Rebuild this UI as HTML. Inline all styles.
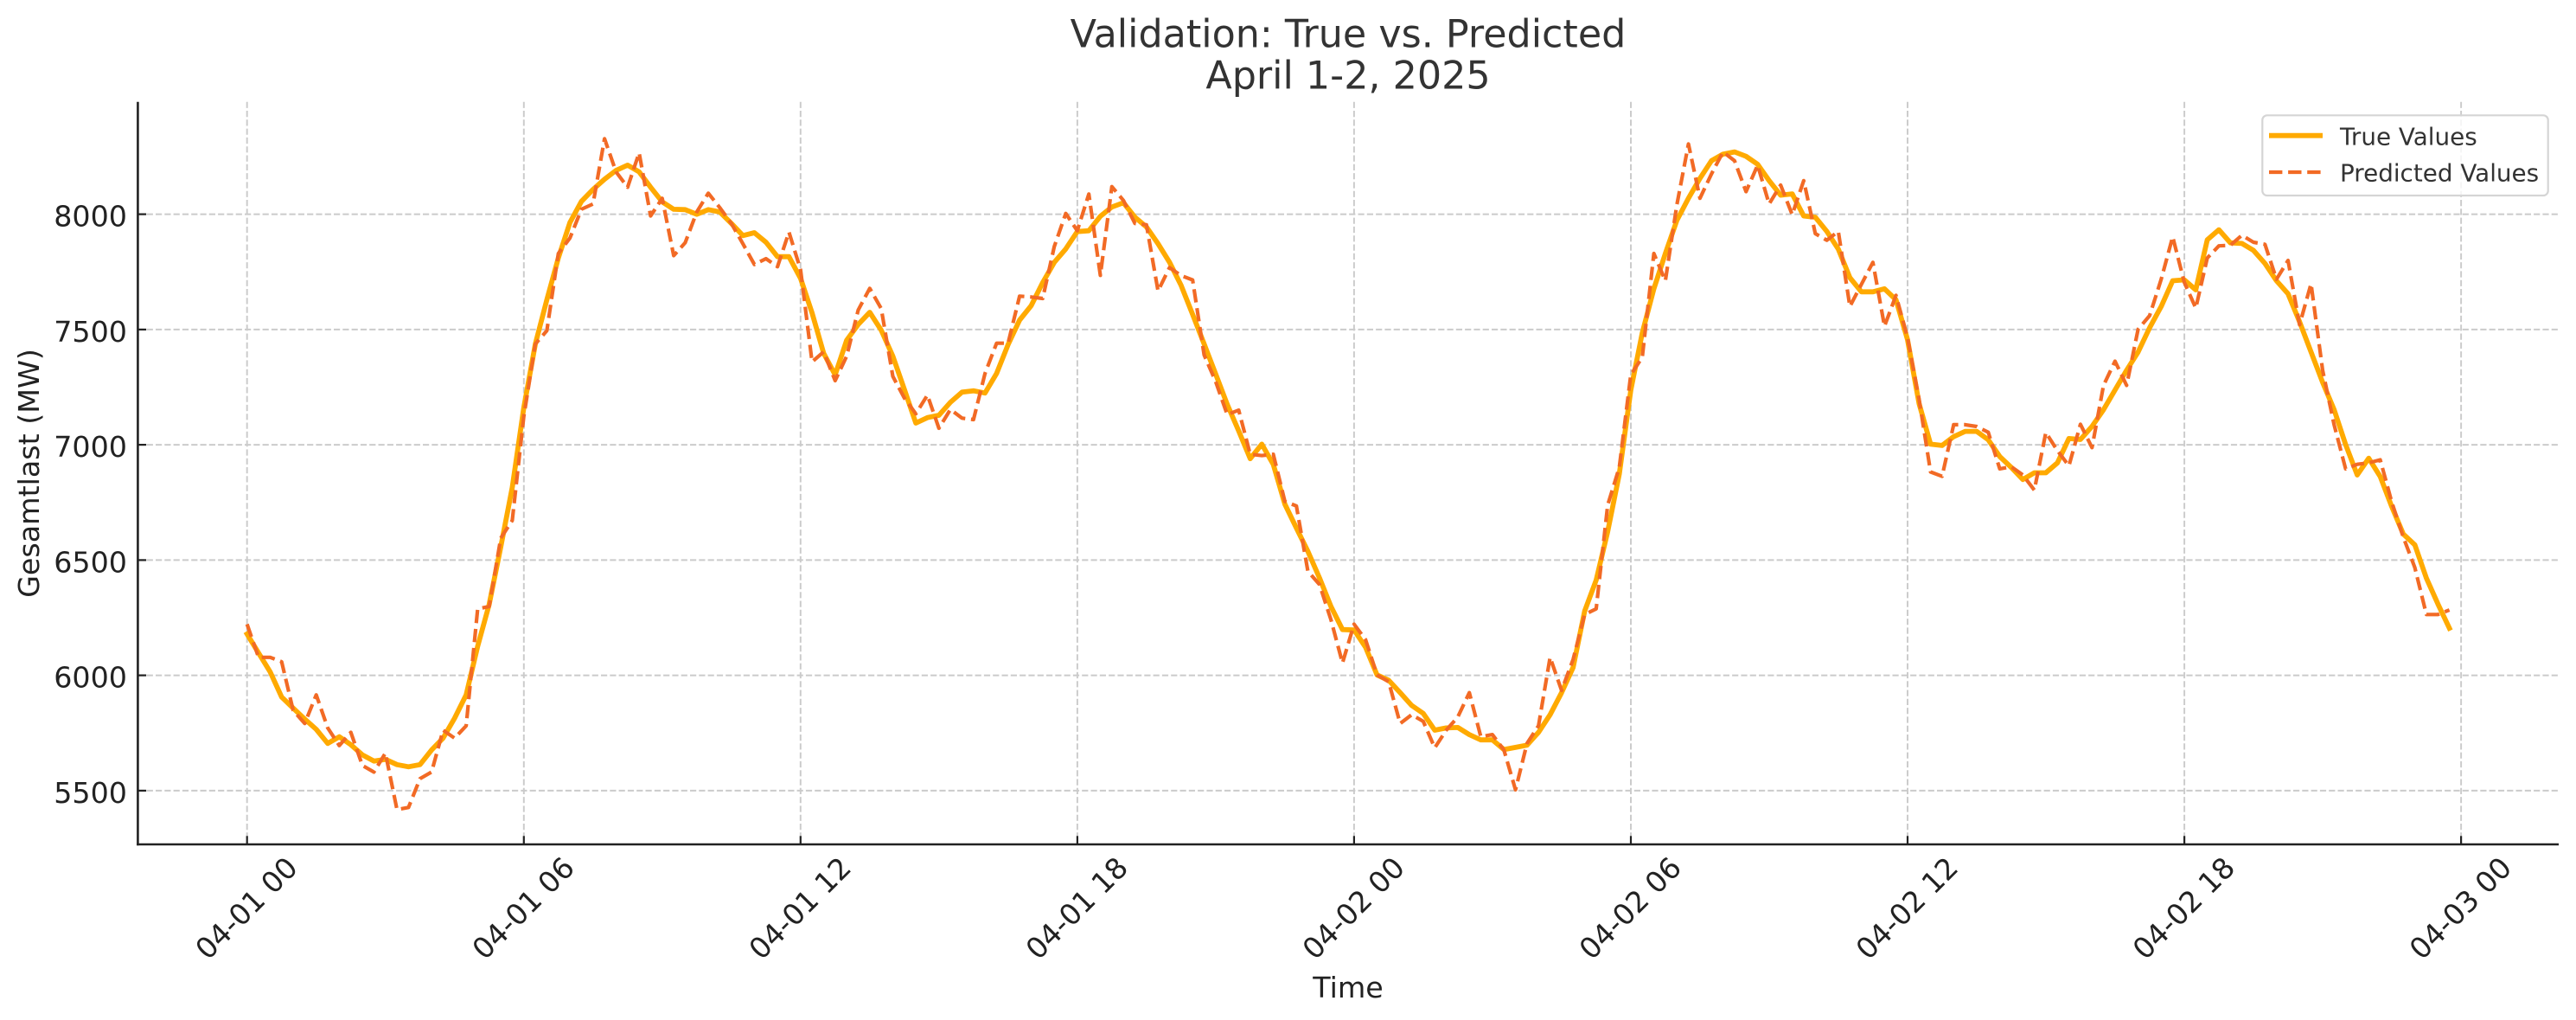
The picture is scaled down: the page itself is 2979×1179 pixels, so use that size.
<!DOCTYPE html>
<html><head><meta charset="utf-8"><style>
html,body{margin:0;padding:0;background:#fff;}
svg{display:block;}
text{font-family:"DejaVu Sans","Liberation Sans",sans-serif;}
</style></head><body>
<svg width="2979" height="1179" viewBox="0 0 2979 1179" xmlns="http://www.w3.org/2000/svg">
<rect x="0" y="0" width="2979" height="1179" fill="#fff"/>
<!-- grid -->
<g stroke="#cbcbcb" stroke-width="1.95" stroke-dasharray="7.2 3.1" fill="none">
<line x1="285.7" y1="117.7" x2="285.7" y2="976"/>
<line x1="605.8" y1="117.7" x2="605.8" y2="976"/>
<line x1="925.8" y1="117.7" x2="925.8" y2="976"/>
<line x1="1245.9" y1="117.7" x2="1245.9" y2="976"/>
<line x1="1565.9" y1="117.7" x2="1565.9" y2="976"/>
<line x1="1886.0" y1="117.7" x2="1886.0" y2="976"/>
<line x1="2206.0" y1="117.7" x2="2206.0" y2="976"/>
<line x1="2526.1" y1="117.7" x2="2526.1" y2="976"/>
<line x1="2846.1" y1="117.7" x2="2846.1" y2="976"/>
<line x1="159.4" y1="247.6" x2="2959" y2="247.6"/>
<line x1="159.4" y1="380.9" x2="2959" y2="380.9"/>
<line x1="159.4" y1="514.1" x2="2959" y2="514.1"/>
<line x1="159.4" y1="647.4" x2="2959" y2="647.4"/>
<line x1="159.4" y1="780.6" x2="2959" y2="780.6"/>
<line x1="159.4" y1="913.9" x2="2959" y2="913.9"/>
</g>
<!-- true values -->
<polyline fill="none" stroke="#FFAA00" stroke-width="5.8" stroke-linejoin="round" stroke-linecap="square" points="285.7,732.8 299.0,754.7 312.4,776.6 325.7,805.7 339.0,818.5 352.4,831.2 365.7,843.0 379.0,859.3 392.4,851.6 405.7,860.8 419.1,872.6 432.4,879.7 445.7,877.7 459.1,883.8 472.4,886.3 485.7,883.8 499.1,866.9 512.4,853.2 525.7,830.2 539.1,803.2 552.4,747.0 565.7,698.6 579.1,632.2 592.4,563.4 605.7,471.5 619.1,397.6 632.4,346.5 645.7,298.1 659.1,257.2 672.4,232.8 685.8,219.0 699.1,207.2 712.4,197.0 725.8,190.9 739.1,198.6 752.4,216.4 765.8,233.3 779.1,241.9 792.4,242.3 805.8,247.7 819.1,242.3 832.4,245.0 845.8,258.3 859.1,272.3 872.4,269.0 885.8,280.0 899.1,296.7 912.4,296.7 925.8,321.7 939.1,361.7 952.5,408.3 965.8,433.3 979.1,393.3 992.5,375.0 1005.8,361.0 1019.1,381.7 1032.5,411.7 1045.8,450.0 1059.1,489.0 1072.5,482.7 1085.8,480.0 1099.1,465.0 1112.5,453.3 1125.8,451.7 1139.1,454.3 1152.5,431.7 1165.8,398.3 1179.1,370.0 1192.5,353.3 1205.8,326.7 1219.2,303.3 1232.5,287.7 1245.8,267.7 1259.2,266.7 1272.5,250.0 1285.8,239.3 1299.2,234.3 1312.5,251.1 1325.8,262.3 1339.2,281.7 1352.5,303.2 1365.8,329.7 1379.2,363.4 1392.5,397.6 1405.8,432.2 1419.2,467.4 1432.5,498.1 1445.8,530.2 1459.2,513.4 1472.5,536.8 1485.9,582.8 1499.2,610.3 1512.5,637.3 1525.9,668.0 1539.2,701.1 1552.5,727.7 1565.9,728.2 1579.2,748.1 1592.5,780.2 1605.9,786.3 1619.2,800.6 1632.5,815.4 1645.9,824.6 1659.2,844.0 1672.5,841.4 1685.9,840.9 1699.2,849.1 1712.5,855.2 1725.9,855.2 1739.2,866.4 1752.6,863.9 1765.9,861.3 1779.2,846.5 1792.6,826.1 1805.9,800.6 1819.2,771.5 1832.6,706.2 1845.9,670.5 1859.2,614.4 1872.6,548.1 1885.9,451.1 1899.2,384.8 1912.6,333.8 1925.9,293.0 1939.2,254.7 1952.6,229.2 1965.9,206.2 1979.2,185.8 1992.6,178.2 2005.9,175.6 2019.2,180.7 2032.6,189.9 2045.9,208.8 2059.2,225.6 2072.6,224.1 2085.9,249.6 2099.3,251.1 2112.6,267.4 2125.9,287.9 2139.3,321.0 2152.6,337.3 2165.9,337.3 2179.3,333.8 2192.6,346.5 2205.9,392.4 2219.3,466.4 2232.6,513.4 2245.9,514.9 2259.3,504.7 2272.6,498.6 2285.9,498.6 2299.3,508.3 2312.6,527.7 2325.9,540.2 2339.3,554.3 2352.6,546.5 2365.9,546.5 2379.3,535.0 2392.6,506.9 2405.9,508.0 2419.3,492.9 2432.6,473.6 2445.9,450.8 2459.3,428.0 2472.6,406.9 2485.9,378.9 2499.3,354.3 2512.6,324.5 2526.0,323.5 2539.3,335.0 2552.6,277.2 2566.0,265.6 2579.3,280.7 2592.6,281.4 2606.0,289.4 2619.3,304.5 2632.6,324.5 2646.0,339.6 2659.3,371.9 2672.6,406.9 2686.0,442.0 2699.3,473.6 2712.6,513.9 2726.0,549.0 2739.3,529.7 2752.6,550.8 2766.0,585.8 2779.3,617.4 2792.6,629.7 2806.0,668.3 2819.3,698.1 2832.6,726.1"/>
<!-- predicted values -->
<polyline fill="none" stroke="#F26A25" stroke-width="4.2" stroke-linejoin="round" stroke-dasharray="15.4 6.7" points="285.7,721.5 299.0,759.8 312.4,759.8 325.7,764.9 339.0,821.0 352.4,836.3 365.7,803.2 379.0,841.4 392.4,861.8 405.7,846.5 419.1,884.8 432.4,892.4 445.7,870.5 459.1,935.8 472.4,933.3 485.7,900.1 499.1,892.4 512.4,844.0 525.7,853.2 539.1,838.9 552.4,703.7 565.7,701.1 579.1,622.0 592.4,601.6 605.7,481.7 619.1,397.6 632.4,382.2 645.7,293.0 659.1,275.1 672.4,241.9 685.8,235.8 699.1,160.3 712.4,198.6 725.8,216.4 739.1,176.6 752.4,249.6 765.8,229.2 779.1,295.5 792.4,280.5 805.8,245.0 819.1,223.3 832.4,240.0 845.8,258.3 859.1,281.7 872.4,305.7 885.8,299.0 899.1,308.3 912.4,268.3 925.8,311.7 939.1,418.3 952.5,406.7 965.8,440.0 979.1,411.7 992.5,358.3 1005.8,333.3 1019.1,356.7 1032.5,435.0 1045.8,460.0 1059.1,478.3 1072.5,456.7 1085.8,495.0 1099.1,473.3 1112.5,483.3 1125.8,485.0 1139.1,431.7 1152.5,396.7 1165.8,396.7 1179.1,342.3 1192.5,343.3 1205.8,345.0 1219.2,285.0 1232.5,246.7 1245.8,266.7 1259.2,224.3 1272.5,318.3 1285.8,215.7 1299.2,231.7 1312.5,258.3 1325.8,259.8 1339.2,336.3 1352.5,309.3 1365.8,318.5 1379.2,323.6 1392.5,410.3 1405.8,440.9 1419.2,479.2 1432.5,474.1 1445.8,525.1 1459.2,526.6 1472.5,525.1 1485.9,579.7 1499.2,584.8 1512.5,660.3 1525.9,675.6 1539.2,716.4 1552.5,766.4 1565.9,721.5 1579.2,739.4 1592.5,780.2 1605.9,787.9 1619.2,836.3 1632.5,826.1 1645.9,833.8 1659.2,864.4 1672.5,844.0 1685.9,828.7 1699.2,800.6 1712.5,851.6 1725.9,849.1 1739.2,866.9 1752.6,912.9 1765.9,859.3 1779.2,838.9 1792.6,759.8 1805.9,798.1 1819.2,762.3 1832.6,710.3 1845.9,703.7 1859.2,583.8 1872.6,540.4 1885.9,433.3 1899.2,412.9 1912.6,293.0 1925.9,324.6 1939.2,236.8 1952.6,166.4 1965.9,229.2 1979.2,201.1 1992.6,175.6 2005.9,185.8 2019.2,221.5 2032.6,190.9 2045.9,235.8 2059.2,213.9 2072.6,248.1 2085.9,208.8 2099.3,270.0 2112.6,277.7 2125.9,267.4 2139.3,354.2 2152.6,328.7 2165.9,303.2 2179.3,377.1 2192.6,341.4 2205.9,389.9 2219.3,461.3 2232.6,545.5 2245.9,550.6 2259.3,490.9 2272.6,490.9 2285.9,493.0 2299.3,499.6 2312.6,541.9 2325.9,539.5 2339.3,549.0 2352.6,566.5 2365.9,499.9 2379.3,520.9 2392.6,538.5 2405.9,490.4 2419.3,517.4 2432.6,445.5 2445.9,417.5 2459.3,445.5 2472.6,380.6 2485.9,364.9 2499.3,322.8 2512.6,273.7 2526.0,326.3 2539.3,356.1 2552.6,298.2 2566.0,284.2 2579.3,283.5 2592.6,271.9 2606.0,280.0 2619.3,282.4 2632.6,322.8 2646.0,301.0 2659.3,375.4 2672.6,328.0 2686.0,428.0 2699.3,491.1 2712.6,542.0 2726.0,536.7 2739.3,535.0 2752.6,531.5 2766.0,580.6 2779.3,620.9 2792.6,656.0 2806.0,710.3 2819.3,710.3 2832.6,705.1"/>
<!-- spines -->
<g stroke="#222" fill="none">
<line x1="159.4" y1="117.7" x2="159.4" y2="977.3" stroke-width="2.6"/>
<line x1="158.1" y1="976" x2="2959" y2="976" stroke-width="2.6"/>
</g>
<!-- ticks (inward) -->
<g stroke="#222" stroke-width="2.2">
<line x1="285.7" y1="966.3" x2="285.7" y2="976"/>
<line x1="605.8" y1="966.3" x2="605.8" y2="976"/>
<line x1="925.8" y1="966.3" x2="925.8" y2="976"/>
<line x1="1245.9" y1="966.3" x2="1245.9" y2="976"/>
<line x1="1565.9" y1="966.3" x2="1565.9" y2="976"/>
<line x1="1886.0" y1="966.3" x2="1886.0" y2="976"/>
<line x1="2206.0" y1="966.3" x2="2206.0" y2="976"/>
<line x1="2526.1" y1="966.3" x2="2526.1" y2="976"/>
<line x1="2846.1" y1="966.3" x2="2846.1" y2="976"/>
<line x1="159.4" y1="247.6" x2="169.1" y2="247.6"/>
<line x1="159.4" y1="380.9" x2="169.1" y2="380.9"/>
<line x1="159.4" y1="514.1" x2="169.1" y2="514.1"/>
<line x1="159.4" y1="647.4" x2="169.1" y2="647.4"/>
<line x1="159.4" y1="780.6" x2="169.1" y2="780.6"/>
<line x1="159.4" y1="913.9" x2="169.1" y2="913.9"/>
</g>
<!-- y tick labels -->
<g font-size="33.3" fill="#222" text-anchor="end">
<text x="147" y="261.7">8000</text>
<text x="147" y="395">7500</text>
<text x="147" y="528.2">7000</text>
<text x="147" y="661.5">6500</text>
<text x="147" y="794.7">6000</text>
<text x="147" y="928">5500</text>
</g>
<!-- x tick labels -->
<g font-size="33.3" fill="#222" text-anchor="middle">
<text transform="translate(284.7,1049.5) rotate(-45)" y="12">04-01 00</text>
<text transform="translate(604.8,1049.5) rotate(-45)" y="12">04-01 06</text>
<text transform="translate(924.8,1049.5) rotate(-45)" y="12">04-01 12</text>
<text transform="translate(1244.9,1049.5) rotate(-45)" y="12">04-01 18</text>
<text transform="translate(1564.9,1049.5) rotate(-45)" y="12">04-02 00</text>
<text transform="translate(1885.0,1049.5) rotate(-45)" y="12">04-02 06</text>
<text transform="translate(2205.0,1049.5) rotate(-45)" y="12">04-02 12</text>
<text transform="translate(2525.1,1049.5) rotate(-45)" y="12">04-02 18</text>
<text transform="translate(2845.1,1049.5) rotate(-45)" y="12">04-03 00</text>
</g>
<!-- axis labels -->
<text x="1559" y="1153" font-size="33.3" fill="#222" text-anchor="middle">Time</text>
<text transform="translate(45,547) rotate(-90)" font-size="33.3" fill="#222" text-anchor="middle">Gesamtlast (MW)</text>
<!-- title -->
<g font-size="44.4" fill="#333" text-anchor="middle">
<text x="1559" y="54.3">Validation: True vs. Predicted</text>
<text x="1559" y="102.7">April 1-2, 2025</text>
</g>
<!-- legend -->
<rect x="2616.3" y="133.3" width="330.4" height="92.7" rx="5.5" ry="5.5" fill="#fff" fill-opacity="0.8" stroke="#d5d5d5" stroke-width="2.2"/>
<line x1="2624" y1="156.7" x2="2686" y2="156.7" stroke="#FFAA00" stroke-width="5.8"/>
<line x1="2624" y1="199" x2="2686" y2="199" stroke="#F26A25" stroke-width="4.2" stroke-dasharray="15.4 6.7"/>
<g font-size="27.8" fill="#333">
<text x="2706" y="167.7">True Values</text>
<text x="2706" y="209.3">Predicted Values</text>
</g>
</svg>
</body></html>
